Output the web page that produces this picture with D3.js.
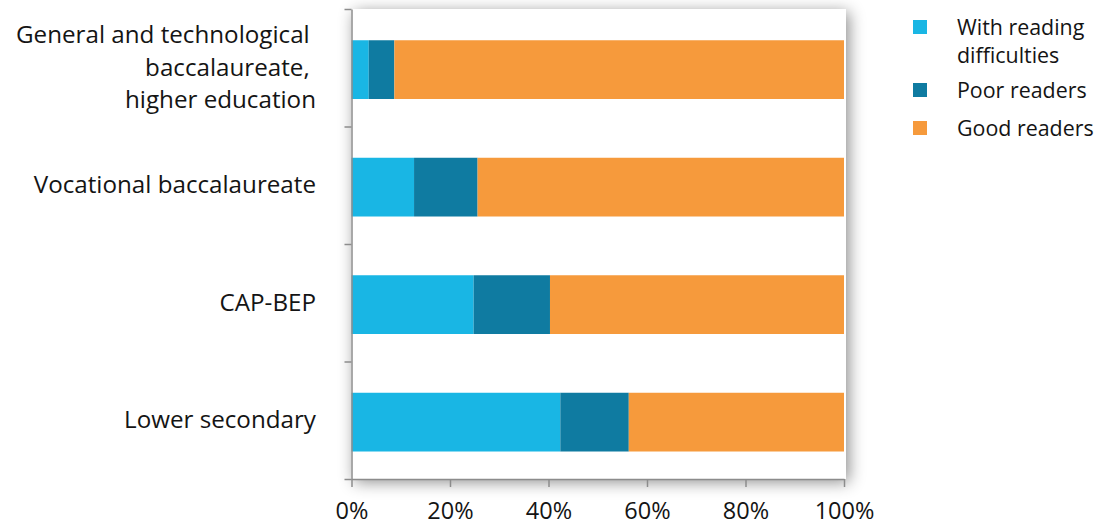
<!DOCTYPE html>
<html>
<head>
<meta charset="utf-8">
<script src="https://cdnjs.cloudflare.com/ajax/libs/d3/7.8.5/d3.min.js"></script>
<style>
    html, body { margin: 0; padding: 0; background: #fff; }
    #chart { width: 1100px; height: 526px; }
    text { font-family: "Open Sans", "Noto Sans", sans-serif; fill: #141414; }
    .axis path, .axis line { stroke: #8c8c8c; stroke-width: 1.5; }
</style>
</head>
<body>
<div id="chart"><svg></svg></div>
<script>
// categories (top to bottom), one entry per text line
const categories = ['General', 'Vocational', 'CAP-BEP', 'Lower secondary'];
const categoryLines = [
    ['General and technological\u00a0', 'baccalaureate,\u00a0', 'higher education'],
    ['Vocational baccalaureate'],
    ['CAP-BEP'],
    ['Lower secondary']
];
const seriesNames = ['With reading difficulties', 'Poor readers', 'Good readers'];
const seriesColors = ['#19b6e4', '#0f7ba1', '#f69a3c'];
// shares in %
const withDifficulties = [3.5, 12.7, 24.8, 42.4];
const poorReaders = [5.2, 12.9, 15.5, 13.9];
const goodReaders = [91.3, 74.4, 59.7, 43.7];
const xTicks = [0, 20, 40, 60, 80, 100];

class StackedBars {
    constructor(el) {
        this.$el = el;
        this.svg = null;
        this.x = null;
        this.y = null;
        this.plot = { left: 351.5, right: 846, top: 9, bottom: 479 };
        this.render();
    }

    render() {
        this.svg = d3.select(this.$el).select('svg')
            .attr('width', 1100)
            .attr('height', 526);
        this.buildScales();
        this.renderFrame();
        this.renderBars();
        this.renderAxes();
        this.renderLabels();
        this.renderLegend();
    }

    buildScales() {
        this.x = d3.scaleLinear().domain([0, 100]).range([this.plot.left, 844]);
        this.y = d3.scaleBand().domain(categories)
            .range([this.plot.top, this.plot.bottom])
            .padding(0);
        // band edges for the y ticks
        this.yEdge = d3.scaleLinear().domain([0, categories.length])
            .range([this.plot.top, this.plot.bottom]);
    }

    renderFrame() {
        const defs = this.svg.append('defs');
        const f = defs.append('filter').attr('id', 'shadow')
            .attr('x', '-10%').attr('y', '-10%')
            .attr('width', '120%').attr('height', '120%');
        f.append('feDropShadow')
            .attr('dx', 3).attr('dy', 3)
            .attr('stdDeviation', 8)
            .attr('flood-color', '#000')
            .attr('flood-opacity', 0.45);
        const p = this.plot;
        this.svg.append('rect')
            .attr('x', p.left).attr('y', p.top)
            .attr('width', p.right - p.left)
            .attr('height', p.bottom - p.top)
            .attr('fill', '#fff')
            .attr('filter', 'url(#shadow)');
    }

    renderBars() {
        const rows = categories.map((c, i) => ({
            cat: c,
            s0: withDifficulties[i],
            s1: poorReaders[i],
            s2: goodReaders[i]
        }));
        const stack = d3.stack().keys(['s0', 's1', 's2'])(rows);
        const bw = this.y.bandwidth();
        const barH = bw * 0.5;
        const barOff = bw * 0.266;
        const g = this.svg.append('g').attr('class', 'bars');
        g.selectAll('g.series')
            .data(stack)
            .join('g')
            .attr('class', 'series')
            .attr('fill', (d, i) => seriesColors[i])
            .selectAll('rect')
            .data(d => d)
            .join('rect')
            .attr('x', d => this.x(d[0]))
            .attr('width', d => this.x(d[1]) - this.x(d[0]))
            .attr('y', d => this.y(d.data.cat) + barOff)
            .attr('height', barH);
    }

    renderAxes() {
        const yAxis = d3.axisLeft(this.yEdge)
            .tickValues(d3.range(categories.length + 1))
            .tickFormat('')
            .tickSize(7)
            .tickSizeOuter(0);
        this.svg.append('g')
            .attr('class', 'axis y-axis')
            .attr('transform', `translate(${this.plot.left},0)`)
            .call(yAxis);

        const xAxis = d3.axisBottom(this.x)
            .tickValues(xTicks)
            .tickFormat(d => d + '%')
            .tickSize(8)
            .tickSizeOuter(0)
            .tickPadding(15);
        const gx = this.svg.append('g')
            .attr('class', 'axis x-axis')
            .attr('transform', `translate(0,${this.plot.bottom})`)
            .call(xAxis);
        gx.selectAll('text')
            .attr('font-size', 23.5)
            .attr('fill', '#141414')
            .style('font-family', '"Open Sans", sans-serif');
    }

    renderLabels() {
        const lh = 32.3;
        const g = this.svg.append('g').attr('class', 'cat-labels');
        categoryLines.forEach((lines, i) => {
            const cy = this.y(categories[i]) + this.y.bandwidth() / 2 + 1.5;
            const t = g.append('text')
                .attr('text-anchor', 'end')
                .attr('font-size', 24.2)
                .attr('x', 316)
                .attr('y', cy - (lines.length - 1) * lh / 2 + 6.5);
            lines.forEach((l, j) => {
                t.append('tspan')
                    .attr('x', 316)
                    .attr('dy', j === 0 ? 0 : lh)
                    .text(l);
            });
        });
    }

    renderLegend() {
        const legendLines = [['With reading', 'difficulties'], ['Poor readers'], ['Good readers']];
        const rowY = [27, 90, 128];
        const g = this.svg.append('g').attr('class', 'legend');
        seriesNames.forEach((name, i) => {
            g.append('rect')
                .attr('x', 913).attr('y', rowY[i] - 7)
                .attr('width', 14).attr('height', 14)
                .attr('fill', seriesColors[i]);
            const t = g.append('text')
                .attr('font-size', 21.4)
                .attr('x', 957)
                .attr('y', rowY[i] + 7.5);
            legendLines[i].forEach((l, j) => {
                t.append('tspan').attr('x', 957).attr('dy', j === 0 ? 0 : 28.5).text(l);
            });
        });
    }
}

new StackedBars(document.getElementById('chart'));
</script>
</body>
</html>
